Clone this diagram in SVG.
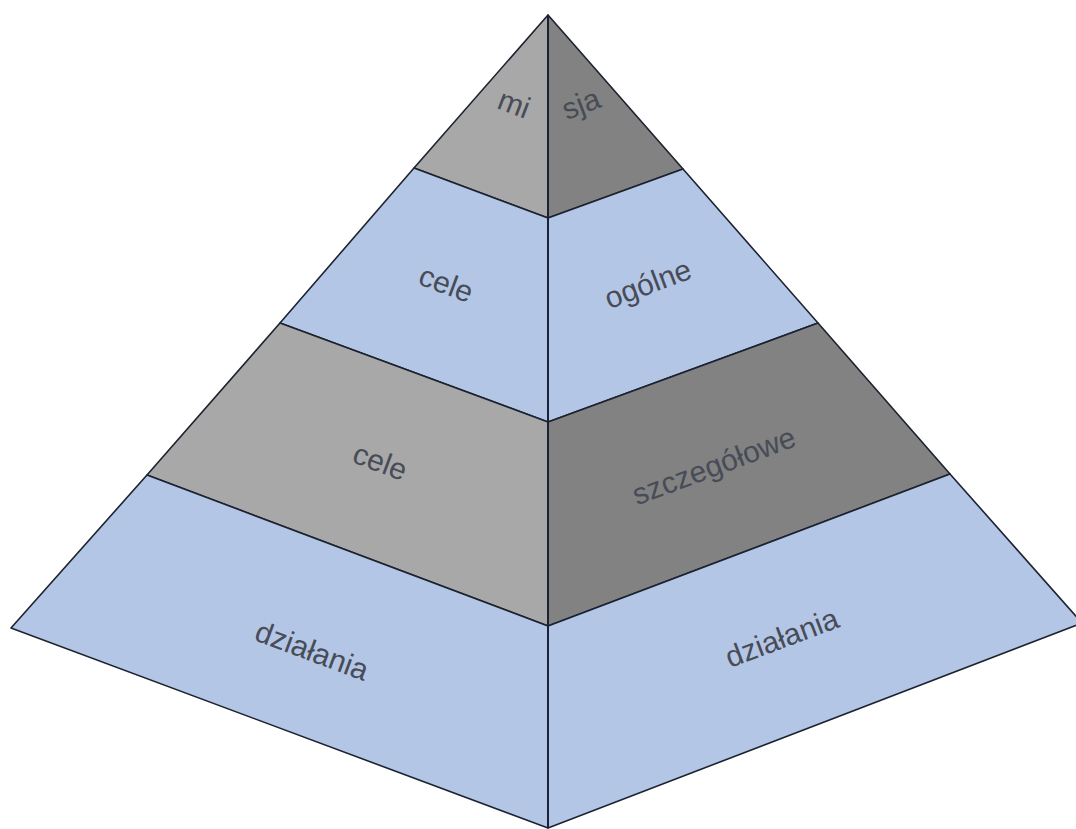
<svg xmlns="http://www.w3.org/2000/svg" width="1076" height="829" viewBox="0 0 1076 829">
  <style>
    .face { stroke: #1c2230; stroke-width: 1.6; stroke-linejoin: round; }
    .blue { fill: #b4c6e6; }
    .lgray { fill: #a8a8a8; }
    .dgray { fill: #828282; }
    .lbl { font-family: "Liberation Sans", Arial, sans-serif; font-size: 30px; fill: #474c57; text-anchor: middle; }
    .axis { stroke: #1c2236; stroke-width: 2; fill: none; }
  </style>
  <rect width="1076" height="829" fill="#ffffff"/>

  <g id="tier1-left">
    <polygon class="face lgray" points="548,15 414,168 548,218"/>
    <text class="lbl" transform="translate(514,104) rotate(21)" y="10">mi</text>
  </g>
  <g id="tier1-right">
    <polygon class="face dgray" points="548,15 683,169 548,218"/>
    <text class="lbl" transform="translate(581,104) rotate(-21)" y="10">sja</text>
  </g>

  <g id="tier2-left">
    <polygon class="face blue" points="414,168 548,218 548,422 280,323"/>
    <text class="lbl" transform="translate(446,284) rotate(20.5)" y="10">cele</text>
  </g>
  <g id="tier2-right">
    <polygon class="face blue" points="683,169 548,218 548,422 818,323"/>
    <text class="lbl" transform="translate(648,284) rotate(-20.5)" y="10">ogólne</text>
  </g>

  <g id="tier3-left">
    <polygon class="face lgray" points="280,323 548,422 548,626 147,475"/>
    <text class="lbl" transform="translate(380,462) rotate(20.5)" y="10">cele</text>
  </g>
  <g id="tier3-right">
    <polygon class="face dgray" points="818,323 548,422 548,626 950,474"/>
    <text class="lbl" transform="translate(714,466) rotate(-20.5)" y="10">szczegółowe</text>
  </g>

  <g id="tier4-left">
    <polygon class="face blue" points="147,475 548,626 548,828 11,628"/>
    <text class="lbl" transform="translate(312,651) rotate(20.5)" y="10">działania</text>
  </g>
  <g id="tier4-right">
    <polygon class="face blue" points="950,474 548,626 548,828 1082,623"/>
    <text class="lbl" transform="translate(782,638) rotate(-20.5)" y="10">działania</text>
  </g>

  <g id="connectors">
    <line class="axis" x1="548" y1="15" x2="548" y2="828"/>
  </g>
</svg>
